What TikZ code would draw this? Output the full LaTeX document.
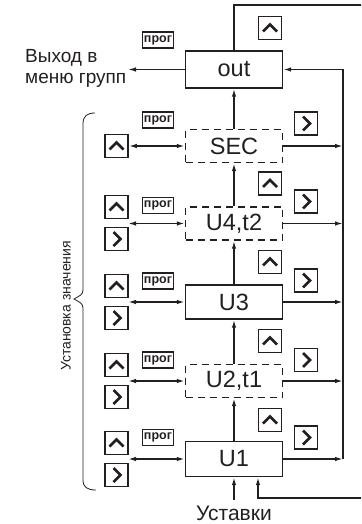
\documentclass[tikz,border=0pt]{standalone}
\usepackage{fontspec}
\setmainfont{Liberation Sans}
\usetikzlibrary{arrows.meta}
\definecolor{ink}{HTML}{231F20}
\begin{document}
\begin{tikzpicture}[x=1pt,y=-1pt,
  blk/.style={draw=ink, line width=1.4pt, minimum width=97pt, minimum height=34pt, inner sep=0pt, font=\fontsize{23.5}{23.5}\selectfont, text=ink},
  dblk/.style={blk, dash pattern=on 7pt off 5pt},
  key/.style={draw=ink, line width=1.5pt, minimum width=23pt, minimum height=23pt, inner sep=0pt},
  upkey/.style={key, path picture={\draw[line width=2.8pt, ink]
      ([shift={(-7pt,-3.5pt)}]path picture bounding box.center) --
      ([shift={(0pt,3.5pt)}]path picture bounding box.center) --
      ([shift={(7pt,-3.5pt)}]path picture bounding box.center);}},
  rkey/.style={key, path picture={\draw[line width=2.8pt, ink]
      ([shift={(-3pt,7pt)}]path picture bounding box.center) --
      ([shift={(4pt,0pt)}]path picture bounding box.center) --
      ([shift={(-3pt,-7pt)}]path picture bounding box.center);}},
  prog/.style={draw=ink, line width=1.1pt, minimum width=31pt, minimum height=16pt, inner sep=0pt, font=\fontsize{12.5}{12.5}\selectfont\bfseries, text=ink},
  con/.style={draw=ink, line width=1.5pt},
  tip/.style={-{Latex[length=8pt,width=4.5pt]}},
  dtip/.style={{Latex[length=8pt,width=4.5pt]}-{Latex[length=8pt,width=4.5pt]}},
  lbl/.style={inner sep=0pt, text=ink}
]
\useasboundingbox (0,0) rectangle (361,524);
\clip (0,0) rectangle (361,524);

% main blocks
\node[blk, minimum height=37pt] (out) at (234,69.5) {out};
\node[dblk, minimum height=33pt] (SEC) at (234,146) {SEC};
\node[dblk, minimum height=33pt] (U4) at (234,223.5) {U4,t2};
\node[blk] (U3) at (234,302) {U3};
\node[dblk, minimum height=33pt] (U2) at (234,381) {U2,t1};
\node[blk, minimum height=35pt] (U1) at (234,459) {U1};

% helper coordinates
\coordinate (bus) at (343,300);
\coordinate (lx) at (128,300);
\coordinate (loopx) at (258,300);
\coordinate (exit) at (128,69.5);

% texts
\node[lbl, anchor=base west, font=\fontsize{19}{19}\selectfont] (ex1) at (25,63) {Выход в};
\node[lbl, anchor=base west, font=\fontsize{19}{19}\selectfont] (ex2) at (25,84) {меню групп};
\node[lbl, anchor=base, font=\fontsize{21}{21}\selectfont] (ust) at (234,520) {Уставки};
\node[lbl, rotate=90, font=\fontsize{14}{14}\selectfont] (ustz) at (66,306) {Установка значения};

% prog keys
\node[prog] (p0) at (158,40) {прог};
\node[prog] (pS) at (158,120) {прог};
\node[prog] (p4) at (158,205.5) {прог};
\node[prog] (p3) at (158,281) {прог};
\node[prog] (p2) at (158,360) {прог};
\node[prog] (p1) at (158,437.5) {прог};

% left keys
\node[upkey] (lkS) at (116.5,146) {};
\node[upkey] (lk4u) at (116.5,207) {};
\node[rkey] (lk4r) at (116.5,239) {};
\node[upkey] (lk3u) at (116.5,286) {};
\node[rkey] (lk3r) at (116.5,318) {};
\node[upkey] (lk2u) at (116.5,365) {};
\node[rkey] (lk2r) at (116.5,397) {};
\node[upkey] (lk1u) at (116.5,443) {};
\node[rkey] (lk1r) at (116.5,475) {};

% middle up keys
\node[upkey] (mk0) at (270,28) {};
\node[upkey] (mkS) at (270,183.5) {};
\node[upkey] (mk4) at (270,262) {};
\node[upkey] (mk3) at (270,341) {};
\node[upkey] (mk2) at (270,420) {};

% right keys
\node[rkey] (rkS) at (306,123.5) {};
\node[rkey] (rk4) at (306,201.5) {};
\node[rkey] (rk3) at (306,280.5) {};
\node[rkey] (rk2) at (306,360) {};
\node[rkey] (rk1) at (306,437.5) {};

% exit arrow
\draw[con, tip] (out.west) -- (exit);

% left double arrows
\draw[con, dtip] (lkS.east) -- (SEC.west);
\draw[con, dtip] (U4.west -| lx) -- (U4.west);
\draw[con, dtip] (U3.west -| lx) -- (U3.west);
\draw[con, dtip] (U2.west -| lx) -- (U2.west);
\draw[con, dtip] (U1.west -| lx) -- (U1.west);

% vertical chain
\draw[con, tip] (SEC.north) -- (out.south);
\draw[con, tip] (U4.north) -- (SEC.south);
\draw[con, tip] (U3.north) -- (U4.south);
\draw[con, tip] (U2.north) -- (U3.south);
\draw[con, tip] (U1.north) -- (U2.south);
\draw[con, tip] (ust.north |- 0,500) -- (U1.south);

% right arrows to bus
\draw[con, tip] (SEC.east) -- (SEC.east -| bus);
\draw[con, tip] (U4.east) -- (U4.east -| bus);
\draw[con, tip] (U3.east) -- (U3.east -| bus);
\draw[con, tip] (U2.east) -- (U2.east -| bus);
\draw[con, tip] (U1.east) -- (U1.east -| bus);
\draw[con, tip] (U1.east -| bus) -- (out.east -| bus) -- (out.east);

% outer loop
\draw[con, tip] (out.north) -- (234,5) -- (365,5) -- (365,498) -- (258,498) -- (U1.south -| loopx);

% brace
\draw[ink, line width=0.8pt] (95,113) .. controls (87,113) and (83,116) .. (83,124)
  -- (83,290) .. controls (83,295) and (79,296) .. (74,299)
  .. controls (79,302) and (83,303) .. (83,308)
  -- (83,480) .. controls (83,487) and (87,490) .. (96,490);
\end{tikzpicture}
\end{document}
